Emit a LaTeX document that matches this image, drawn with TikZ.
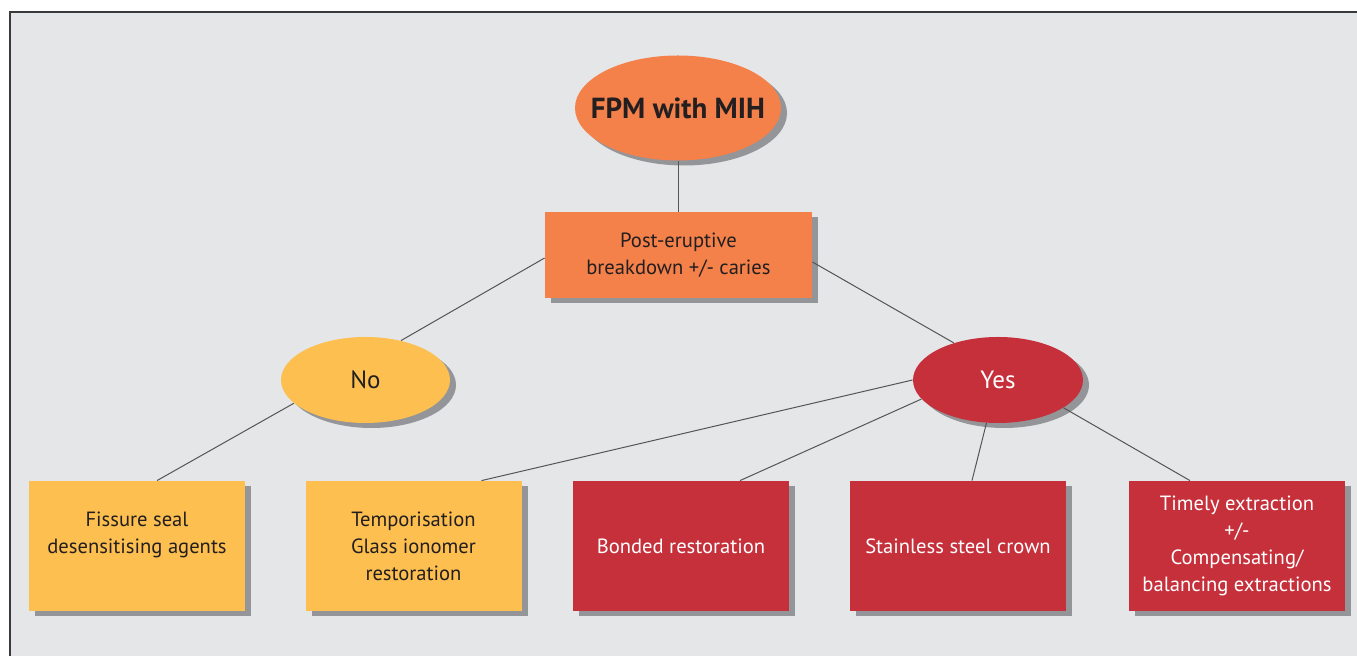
\documentclass[tikz,border=0pt]{standalone}
\usepackage{fontspec}
\setmainfont{PT Sans}
\usetikzlibrary{shapes.geometric,shadows}
\definecolor{bggray}{HTML}{E5E6E8}
\definecolor{framegray}{HTML}{3A3A3A}
\definecolor{shadowgray}{HTML}{939598}
\definecolor{orangec}{HTML}{F4804A}
\definecolor{yellowc}{HTML}{FDBF4F}
\definecolor{redc}{HTML}{C5303B}
\definecolor{textdark}{HTML}{231F20}
\definecolor{linegray}{HTML}{555555}
\tikzset{
  shad/.style={drop shadow={shadow xshift=3pt,shadow yshift=-2.5pt,fill=shadowgray,opacity=1}},
  oval/.style={ellipse,inner sep=0pt,shad,text=textdark},
  boxn/.style={rectangle,inner sep=0pt,shad,text=textdark,align=center,
    minimum width=108pt,minimum height=65pt,font=\fontsize{10.3}{13.5}\selectfont},
  conn/.style={draw=linegray,line width=0.5pt}
}
\begin{document}
\begin{tikzpicture}[x=0.5pt,y=-0.5pt]
\useasboundingbox (0,0) rectangle (1357,656);
\fill[white] (0,0) rectangle (1357,656);
\fill[bggray] (10,12) rectangle (1357,656);
\draw[framegray,line width=0.8pt] (10,656) -- (10,12) -- (1357,12);

\node[oval,fill=orangec,minimum width=103pt,minimum height=52.5pt,font=\fontsize{14.5}{18}\selectfont\bfseries] (fpm) at (678,108) {\makebox[0pt]{FPM with MIH}};
\node[rectangle,inner sep=0pt,shad,fill=orangec,text=textdark,align=center,minimum width=133.5pt,minimum height=43pt,font=\fontsize{10.3}{13.5}\selectfont] (post) at (678.5,255) {Post-eruptive\\breakdown +/- caries};
\node[oval,fill=yellowc,minimum width=84.5pt,minimum height=43pt,font=\fontsize{12.5}{15}\selectfont] (no) at (365.5,380) {\makebox[0pt]{No}};
\node[oval,fill=redc,text=white,minimum width=85pt,minimum height=43pt,font=\fontsize{12.5}{15}\selectfont] (yes) at (998,380) {\makebox[0pt]{Yes}};

\node[boxn,fill=yellowc] (fis) at (137,546) {Fissure seal\\desensitising agents\\\mbox{}};
\node[boxn,fill=yellowc] (tmp) at (413.5,546) {Temporisation\\Glass ionomer\\restoration};
\node[boxn,fill=redc,text=white] (bon) at (681,546) {Bonded restoration};
\node[boxn,fill=redc,text=white] (ssc) at (958,546) {Stainless steel crown};
\node[boxn,fill=redc,text=white] (tim) at (1237,546) {Timely extraction\\+/-\\Compensating/\\balancing extractions};

\draw[conn] (fpm.south) -- (fpm.south |- post.north);
\draw[conn] ([yshift=-1.5pt]post.west) -- (no.48.5);
\draw[conn] ([yshift=-3.5pt]post.east) -- (yes.140.6);
\draw[conn] (no.198.3) -- ([xshift=10pt]fis.north);
\draw[conn] (yes.west) -- ([xshift=34pt]tmp.north);
\draw[conn] (yes.194) -- ([xshift=29.5pt]bon.north);
\draw[conn] (yes.255.7) -- ([xshift=7pt]ssc.north);
\draw[conn] (yes.337) -- ([xshift=-23.5pt]tim.north);
\end{tikzpicture}
\end{document}
